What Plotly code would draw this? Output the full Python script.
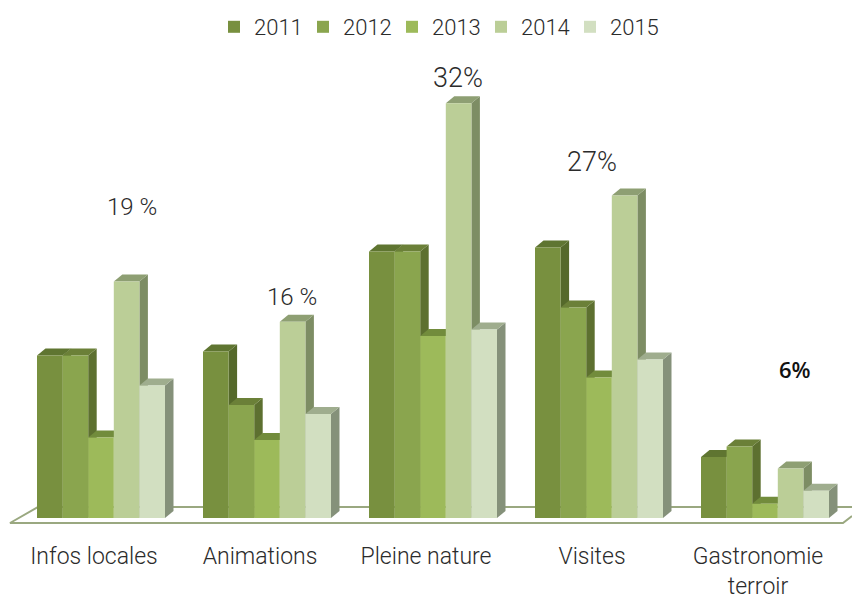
import plotly.graph_objects as go

categories = ["Infos locales", "Animations", "Pleine nature", "Visites", "Gastronomie<br>terroir"]
years = ["2011", "2012", "2013", "2014", "2015"]
v2011 = [12.5, 12.8, 20.5, 20.8, 4.7]
v2012 = [12.5, 8.7, 20.5, 16.2, 5.5]
v2013 = [6.2, 6.0, 14.0, 10.8, 1.1]
v2014 = [18.2, 15.1, 31.9, 24.8, 3.8]
v2015 = [10.2, 8.0, 14.5, 12.2, 2.1]
series = [v2011, v2012, v2013, v2014, v2015]
point_labels = ["19 %", "16 %", "32%", "27%", "6%"]

W, H = 852, 596
GROUP_PX, UNIT_PX = 166.0, 13.0
X0_PX, BASE_PX = 101.0, 518.0
BOTTOM_PX = 530.0
BAR_W = 25.6 / GROUP_PX
DX, DY = 8.5 / GROUP_PX, 7.0 / UNIT_PX
FRONT = ["#78903F", "#8AA54E", "#9DBA5A", "#BBCE97", "#D2DFC1"]
SIDE = ["#55692B", "#5D7030", "#6C8238", "#7D8D64", "#85917A"]
TOP = ["#5F7531", "#6B8038", "#728C3C", "#8E9F73", "#9FAD8E"]
FONT = "Roboto"
INK = "#2b2b2b"


def px_x(p):
    return (p - X0_PX) / GROUP_PX


def px_y(p):
    return (BASE_PX - p) / UNIT_PX


fig = go.Figure()

# floor
fig.add_trace(go.Scatter(
    x=[px_x(p) for p in (852, 38, 10, 843, 852)],
    y=[px_y(p) for p in (507, 507, 523, 523, 516)],
    mode="lines", line=dict(color="#9AA880", width=2),
    showlegend=False, hoverinfo="skip", zorder=-3, cliponaxis=False))

for j, (name, vals) in enumerate(zip(years, series)):
    lefts = [i - 2.5 * BAR_W + j * BAR_W for i in range(len(vals))]
    for xl, v in zip(lefts, vals):
        xr = xl + BAR_W
        fig.add_trace(go.Scatter(
            x=[xr, xr + DX, xr + DX, xr, xr], y=[0, DY, v + DY, v, 0],
            mode="lines", fill="toself", fillcolor=SIDE[j], line=dict(width=0),
            showlegend=False, hoverinfo="skip", zorder=-1))
        fig.add_trace(go.Scatter(
            x=[xl, xl + DX, xr + DX, xr, xl], y=[v, v + DY, v + DY, v, v],
            mode="lines", fill="toself", fillcolor=TOP[j], line=dict(width=0),
            showlegend=False, hoverinfo="skip", zorder=-1))
    fig.add_trace(go.Bar(
        x=list(range(len(vals))), y=vals, name=name,
        marker=dict(color=FRONT[j], line=dict(width=0)), zorder=0))

# percentage labels: pixel anchor of each text, and its size
label_px = [(132, 207, 24), (292, 297, 24), (458, 78, 27), (592, 162, 27), (795, 369, 22)]
for k, (txt, (px, py, sz)) in enumerate(zip(point_labels, label_px)):
    last = k == len(point_labels) - 1
    fig.add_annotation(
        x=px_x(px), y=px_y(py), text=txt, showarrow=False,
        font=dict(family="Open Sans" if last else FONT, size=sz,
                  color="#111111" if last else INK,
                  weight=600 if last else 300))

fig.update_layout(
    template="none",
    width=W, height=H, autosize=False,
    margin=dict(l=0, r=0, t=0, b=H - BOTTOM_PX, pad=0, autoexpand=False),
    paper_bgcolor="white", plot_bgcolor="white",
    barmode="group", bargap=1 - 5 * BAR_W, bargroupgap=0,
    font=dict(family=FONT, color=INK),
    xaxis=dict(range=[px_x(0), px_x(W)], tickmode="array", automargin=False,
               tickvals=[i - 7 / GROUP_PX for i in range(len(categories))],
               ticktext=categories, ticks="", showgrid=False, zeroline=False,
               showline=False, ticklabelstandoff=10, fixedrange=True,
               tickfont=dict(family=FONT, size=23, color=INK, weight=300)),
    yaxis=dict(range=[px_y(BOTTOM_PX), px_y(0)], visible=False, fixedrange=True, automargin=False),
    legend=dict(orientation="h", x=214 / W, xanchor="left", y=1 - 27 / BOTTOM_PX, yanchor="middle",
                entrywidth=44, entrywidthmode="pixels",
                traceorder="normal", bgcolor="rgba(0,0,0,0)",
                font=dict(family=FONT, size=22, color=INK, weight=300)),
)
fig.write_html("out.html", config={"displayModeBar": False},
               post_script="document.body.style.margin='0';document.body.style.overflow='hidden';")
